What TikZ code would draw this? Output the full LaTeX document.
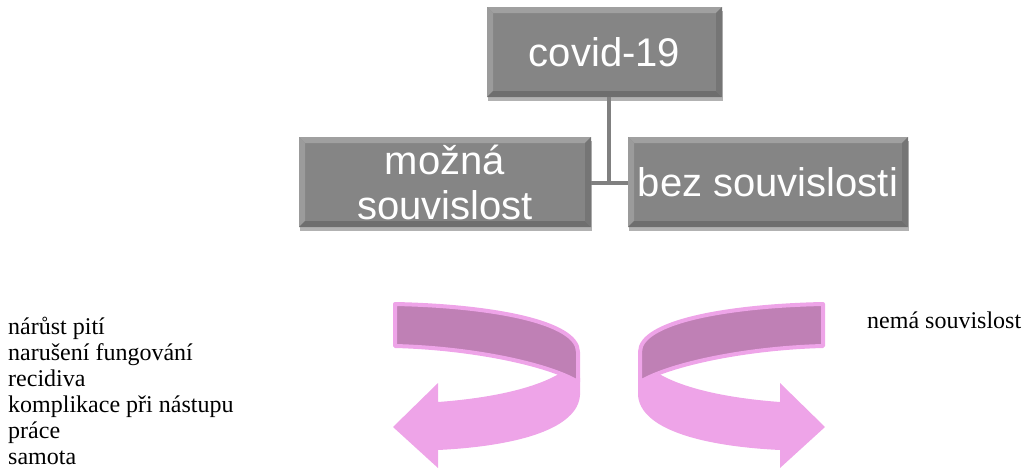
\documentclass[tikz,border=0pt]{standalone}
\usepackage{fontspec}
\setmainfont{Liberation Serif}
\setsansfont{Liberation Sans}
\usetikzlibrary{shadows}

\definecolor{boxgray}{HTML}{858585}
\definecolor{bevlight}{HTML}{A0A0A0}
\definecolor{bevdark}{HTML}{6E6E6E}
\definecolor{linegray}{HTML}{808080}
\definecolor{frontpink}{HTML}{EEA4E8}
\definecolor{backpink}{HTML}{BF80B5}

\tikzset{
  box/.style={fill=boxgray, text=white, inner sep=0pt, align=center,
    font=\sffamily\fontsize{40}{45}\selectfont,
    drop shadow={shadow xshift=1pt, shadow yshift=-4pt, opacity=0.3, fill=black},
    path picture={
      \fill[bevlight] (path picture bounding box.north west) -- (path picture bounding box.north east)
        -- ([xshift=-6pt,yshift=-6pt]path picture bounding box.north east) -- ([xshift=6pt,yshift=-6pt]path picture bounding box.north west) -- cycle;
      \fill[bevlight!80!boxgray] (path picture bounding box.north west) -- ([xshift=6pt,yshift=-6pt]path picture bounding box.north west)
        -- ([xshift=6pt,yshift=6pt]path picture bounding box.south west) -- (path picture bounding box.south west) -- cycle;
      \fill[bevdark] (path picture bounding box.south west) -- (path picture bounding box.south east)
        -- ([xshift=-6pt,yshift=6pt]path picture bounding box.south east) -- ([xshift=6pt,yshift=6pt]path picture bounding box.south west) -- cycle;
      \fill[bevdark!70!boxgray] (path picture bounding box.north east) -- ([xshift=-6pt,yshift=-6pt]path picture bounding box.north east)
        -- ([xshift=-6pt,yshift=6pt]path picture bounding box.south east) -- (path picture bounding box.south east) -- cycle;
    }},
  link/.style={draw=linegray, line width=4.5pt},
  listtext/.style={font=\fontsize{24}{26}\selectfont, align=left, inner sep=0pt},
  ribbonarrow/.pic={
    % front part with the head
    \fill[frontpink] (580,378) -- (580,395) .. controls (578,428) and (520,446) .. (438,450)
      -- (438,468) -- (393,427) -- (438,383) -- (438,402)
      .. controls (492,398) and (537,388) .. (562,372) -- cycle;
    % back part
    \filldraw[fill=backpink, draw=frontpink, line width=4pt, line join=round]
      (395,304) .. controls (492,306) and (578,322) .. (578,352) -- (578,382)
      .. controls (548,364) and (472,348) .. (395,346) -- cycle;
  }
}

\begin{document}
\begin{tikzpicture}[x=1pt, y=-1pt]
\useasboundingbox (0,0) rectangle (1023,472);

\node[box, minimum width=235pt, minimum height=90pt] (covid) at (604.5,52) {covid-19};
\node[box, minimum width=292pt, minimum height=90pt] (mozna) at (445,182) {možná\\souvislost};
\node[box, minimum width=280pt, minimum height=90pt] (bez) at (768,182) {bez souvislosti};

\coordinate (joint) at (609,183);
\draw[link] (covid.south -| joint) -- (joint);
\draw[link] (mozna.east |- joint) -- (bez.west |- joint);

\pic at (0,0) {ribbonarrow};
\pic[xscale=-1] at (1218,0) {ribbonarrow};

\node[listtext, anchor=north west] (effects) at (8,317) {nárůst pití\\narušení fungování\\recidiva\\komplikace při nástupu\\práce\\samota};
\node[listtext, anchor=base west] (none) at (867,328) {nemá souvislost};
\end{tikzpicture}
\end{document}
